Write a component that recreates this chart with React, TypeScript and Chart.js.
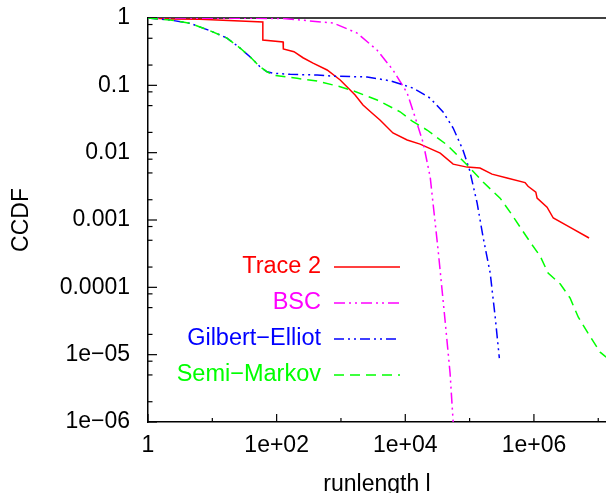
import React, { useEffect, useRef } from "react";
import { Chart, registerables } from "chart.js";

Chart.register(...registerables);

// ---- data ----
const traceX = [1, 2.2, 6.4, 61, 61, 126, 127, 186, 257, 368, 609, 973, 1660, 2200, 3030, 4040, 6430, 10700, 17000, 34900, 55500, 91000, 145000, 223000, 382000, 728000, 810000, 1.07e6, 1.12e6, 1.6e6, 2.0e6, 3.6e6, 7.2e6];
const traceY = [1, 0.97, 0.96, 0.873, 0.471, 0.44, 0.346, 0.316, 0.257, 0.214, 0.169, 0.12, 0.0718, 0.051, 0.0388, 0.0305, 0.0196, 0.0154, 0.0134, 0.00986, 0.00676, 0.0061, 0.0059, 0.0048, 0.0042, 0.0036, 0.00317, 0.0026, 0.00211, 0.00155, 0.00107, 0.000785, 0.00054];

const bscX = [1, 38.6, 126, 231, 754, 1780, 3630, 6440, 10700, 14200, 19000, 24400, 32400, 41500, 49700, 55500];
const bscY = [1, 0.99, 0.983, 0.934, 0.843, 0.598, 0.335, 0.169, 0.0769, 0.0337, 0.0139, 0.00434, 0.000357, 3.26e-5, 5.31e-6, 1e-6];

const geX = [1, 2.2, 4.5, 9.2, 16.9, 27, 38.5, 55, 71, 88, 162, 425, 754, 2550, 5780, 13200, 24300, 38700, 55500, 79000, 100000, 131000, 162000, 209000, 250000, 290000];
const geY = [1, 0.934, 0.834, 0.648, 0.504, 0.358, 0.266, 0.189, 0.159, 0.151, 0.146, 0.142, 0.137, 0.133, 0.117, 0.091, 0.0647, 0.0401, 0.0232, 0.0109, 0.0055, 0.00178, 0.000557, 0.000163, 3.6e-5, 8.9e-6];

const smX = [1, 2.2, 4.5, 9.2, 16.9, 27, 38.5, 55, 71, 88, 208, 425, 970, 1540, 3650, 8300, 13200, 21800, 44700, 91500, 162000, 298000, 426000, 610000, 874000, 1.25e6, 1.66e6, 2.57e6, 3.66e6, 4.9e6, 6.9e6, 1.07e7, 1.33e7];
const smY = [1, 0.934, 0.834, 0.648, 0.504, 0.358, 0.266, 0.189, 0.159, 0.142, 0.127, 0.116, 0.0954, 0.083, 0.0605, 0.0405, 0.0288, 0.0217, 0.013, 0.00654, 0.00366, 0.00211, 0.00131, 0.000785, 0.00047, 0.000291, 0.000163, 0.000112, 6.9e-5, 3.6e-5, 2.1e-5, 1.09e-5, 9.2e-6];

const seriesLabels = ["Trace 2", "BSC", "Gilbert\u2212Elliot", "Semi\u2212Markov"];
const seriesColors = ["#ff0000", "#ff00ff", "#0000ff", "#00ff00"];

const xTickValues = [1, 10, 100, 1e3, 1e4, 1e5, 1e6, 1e7];
const xTickLabels = ["1", "", "1e+02", "", "1e+04", "", "1e+06", ""];
const yTickValues = [1e-6, 1e-5, 1e-4, 1e-3, 1e-2, 0.1, 1];
const yTickLabels = ["1e\u221206", "1e\u221205", "0.0001", "0.001", "0.01", "0.1", "1"];
const yMinorFactors = [0.8, 0.5, 0.2];

const X_MIN = 1;
const X_MAX = 1.32e7;
const Y_MIN = 1e-6;
const Y_MAX = 1;

const FONT = "'Liberation Sans', Arial, Helvetica, sans-serif";
const CANVAS_W = 606;
const CANVAS_H = 520;
const PLOT_LEFT = 148;
const PLOT_TOP = 18;
const PLOT_BOTTOM = 422;
const TICK_FONT = 23;

const dashes: number[][] = [[], [11, 4, 2, 4, 2, 4], [10, 4, 2, 4, 2, 4], [10, 6]];

function toPoints(xs: number[], ys: number[]) {
  return xs.map((x, i) => ({ x, y: ys[i] }));
}

const decorPlugin = {
  id: "decor",
  beforeDatasetsDraw(chart: any) {
    const { ctx, chartArea } = chart;
    const { left, right, top, bottom } = chartArea;
    const xs = chart.scales.x;
    const ys = chart.scales.y;
    ctx.save();
    ctx.strokeStyle = "#000";
    ctx.lineWidth = 1.5;
    ctx.beginPath();
    ctx.moveTo(left, top);
    ctx.lineTo(right, top);
    ctx.stroke();
    ctx.lineWidth = 1.2;
    yTickValues.forEach((v) => {
      const py = ys.getPixelForValue(v);
      ctx.beginPath();
      ctx.moveTo(left, py);
      ctx.lineTo(left + 9, py);
      ctx.stroke();
    });
    yTickValues.forEach((v) => {
      if (v <= Y_MIN) return;
      yMinorFactors.forEach((f) => {
        const py = ys.getPixelForValue(v * f);
        if (py > bottom) return;
        ctx.beginPath();
        ctx.moveTo(left, py);
        ctx.lineTo(left + 4.5, py);
        ctx.stroke();
      });
    });
    xTickValues.forEach((v, i) => {
      const px = xs.getPixelForValue(v);
      const len = xTickLabels[i] ? 8 : 4;
      ctx.beginPath();
      ctx.moveTo(px, bottom);
      ctx.lineTo(px, bottom - len);
      ctx.stroke();
    });
    ctx.restore();
  },
  afterDraw(chart: any) {
    const { ctx } = chart;
    ctx.save();
    ctx.font = `23.5px ${FONT}`;
    ctx.textAlign = "right";
    ctx.textBaseline = "middle";
    chart.data.datasets.forEach((ds: any, i: number) => {
      const rowY = 267 + 36 * i;
      ctx.fillStyle = ds.borderColor;
      ctx.fillText(ds.label, 321, rowY);
      ctx.strokeStyle = ds.borderColor;
      ctx.lineWidth = 1.6;
      ctx.setLineDash(ds.borderDash || []);
      ctx.beginPath();
      ctx.moveTo(334, rowY);
      ctx.lineTo(400, rowY);
      ctx.stroke();
    });
    ctx.restore();
  },
};

export default function App() {
  const canvasRef = useRef<HTMLCanvasElement | null>(null);

  useEffect(() => {
    const canvas = canvasRef.current;
    if (!canvas) return;
    Chart.defaults.font.family = FONT;
    const seriesX = [traceX, bscX, geX, smX];
    const seriesY = [traceY, bscY, geY, smY];
    const chart = new Chart(canvas, {
      type: "line",
      data: {
        datasets: seriesLabels.map((label, i) => ({
          label,
          data: toPoints(seriesX[i], seriesY[i]),
          borderColor: seriesColors[i],
          backgroundColor: seriesColors[i],
          borderWidth: 1.5,
          borderDash: dashes[i],
          pointRadius: 0,
          tension: 0,
          fill: false,
          order: 4 - i,
        })),
      },
      options: {
        animation: false,
        responsive: false,
        devicePixelRatio: 1,
        layout: { padding: { left: 0, top: PLOT_TOP, right: 0, bottom: 0 } },
        plugins: {
          legend: { display: false },
          tooltip: { enabled: false },
        },
        scales: {
          x: {
            type: "logarithmic",
            min: X_MIN,
            max: X_MAX,
            afterBuildTicks: (s: any) => {
              s.ticks = xTickValues.map((v) => ({ value: v }));
            },
            afterFit: (s: any) => {
              s.height = CANVAS_H - PLOT_BOTTOM;
              s.paddingLeft = 0;
              s.paddingRight = 0;
            },
            ticks: {
              autoSkip: false,
              maxRotation: 0,
              padding: 10,
              color: "#000",
              font: { size: TICK_FONT, family: FONT },
              callback: (_v: any, i: number) => xTickLabels[i],
            },
            grid: { display: false, drawTicks: false },
            border: { display: true, color: "#000", width: 1.5 },
            title: {
              display: true,
              text: "runlength l",
              color: "#000",
              font: { size: TICK_FONT, family: FONT },
              padding: { top: 0, bottom: 22 },
            },
          },
          y: {
            type: "logarithmic",
            min: Y_MIN,
            max: Y_MAX,
            afterBuildTicks: (s: any) => {
              s.ticks = yTickValues.map((v) => ({ value: v }));
            },
            afterFit: (s: any) => {
              s.width = PLOT_LEFT;
              s.paddingTop = 0;
              s.paddingBottom = 0;
            },
            ticks: {
              autoSkip: false,
              padding: 18,
              color: "#000",
              font: { size: TICK_FONT, family: FONT },
              callback: (_v: any, i: number) => yTickLabels[i],
            },
            grid: { display: false, drawTicks: false },
            border: { display: true, color: "#000", width: 1.5 },
            title: {
              display: true,
              text: "CCDF",
              color: "#000",
              font: { size: TICK_FONT, family: FONT },
              padding: { top: 8, bottom: 0 },
            },
          },
        },
      },
      plugins: [decorPlugin],
    } as any);
    return () => chart.destroy();
  }, []);

  return (
    <div
      style={{
        position: "fixed",
        left: 0,
        top: 0,
        width: CANVAS_W,
        height: 493,
        overflow: "hidden",
        background: "#fff",
      }}
    >
      <canvas
        ref={canvasRef}
        width={CANVAS_W}
        height={CANVAS_H}
        style={{ display: "block", width: CANVAS_W, height: CANVAS_H }}
      />
    </div>
  );
}
